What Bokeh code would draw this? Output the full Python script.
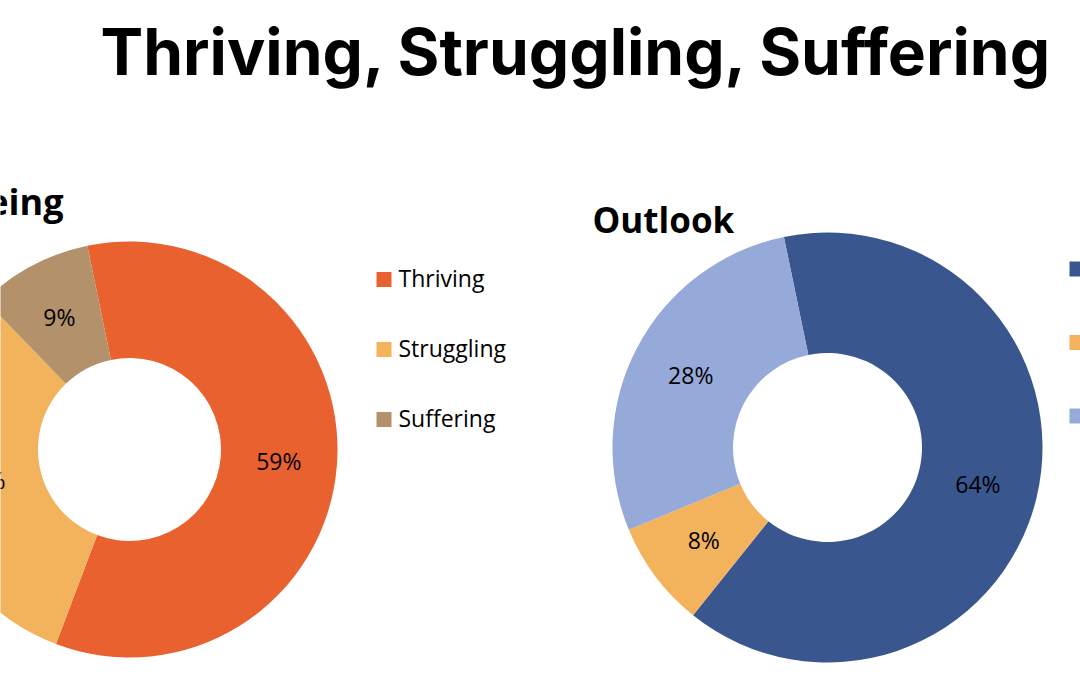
import math
from bokeh.plotting import figure
from bokeh.models import Range1d, ColumnDataSource
from bokeh.core.properties import value
from bokeh.embed import file_html
from bokeh.resources import INLINE

# ---- data ----
title_text = "Thriving, Struggling, Suffering"

wellbeing_title = "Wellbeing"
wellbeing_cats = ["Thriving", "Struggling", "Suffering"]
wellbeing_vals = [59, 32, 9]
wellbeing_colors = ["#EA6130", "#F3B25C", "#B3916A"]

outlook_title = "Outlook"
outlook_cats = ["Positive", "Neutral", "Negative"]
outlook_vals = [64, 8, 28]
outlook_colors = ["#39568F", "#F3B25C", "#95AAD8"]

START_CW = -11.7  # first slice starts this many degrees clockwise from 12 o'clock

W, H = 1080, 675
p = figure(width=W, height=H, x_range=Range1d(0, W), y_range=Range1d(0, H),
           output_backend="svg", toolbar_location=None, min_border=0)
p.axis.visible = False
p.grid.visible = False
p.outline_line_color = None
p.background_fill_color = "white"
p.border_fill_color = "white"

def Y(ypx):
    return H - ypx

LABEL_FONT = value("Open Sans")


def donut(cx, cy_px, r_in, r_out, vals, colors):
    cy = Y(cy_px)
    total = float(sum(vals))
    starts, ends, lx, ly, txt = [], [], [], [], []
    cum = 0.0
    for v in vals:
        ts = START_CW + 360.0 * cum / total
        te = START_CW + 360.0 * (cum + v) / total
        starts.append(math.radians(90 - ts))
        ends.append(math.radians(90 - te))
        mid = math.radians((ts + te) / 2)
        rm = (r_in + r_out) / 2
        lx.append(cx + rm * math.sin(mid))
        ly.append(cy + rm * math.cos(mid))
        txt.append(f"{v}%")
        cum += v
    src = ColumnDataSource(dict(x=[cx] * len(vals), y=[cy] * len(vals),
                                start=starts, end=ends, color=colors))
    p.annular_wedge(x="x", y="y", inner_radius=r_in, outer_radius=r_out,
                    start_angle="start", end_angle="end", direction="clock",
                    fill_color="color", line_color=None, source=src)
    lsrc = ColumnDataSource(dict(x=lx, y=ly, t=txt))
    p.text(x="x", y="y", text="t", source=lsrc, text_align="center",
           text_baseline="middle", text_font=LABEL_FONT,
           text_font_size="23px", text_color="#000000")


donut(129, 449, 91.5, 208, wellbeing_vals, wellbeing_colors)
donut(827, 447, 94.5, 215, outlook_vals, outlook_colors)

# legends
def legend(x_sq, y0_px, dy, cats, colors, show_text=True):
    ys = [Y(y0_px + i * dy) for i in range(len(cats))]
    p.rect(x=[x_sq + 7.5] * len(cats), y=ys, width=15, height=15,
           fill_color=colors, line_color=None)
    if show_text:
        p.text(x=[x_sq + 22] * len(cats), y=[y + 1.5 for y in ys], text=cats,
               text_align="left", text_baseline="middle", text_font=LABEL_FONT,
               text_font_size="23px", text_color="#000000")

legend(376, 279, 70, wellbeing_cats, wellbeing_colors)
legend(1069, 268.5, 73.5, outlook_cats, outlook_colors, show_text=False)

# chart titles
p.text(x=[63], y=[Y(201)], text=[wellbeing_title], text_align="right",
       text_baseline="alphabetic", text_font=LABEL_FONT, text_font_style="bold",
       text_font_size="36px", text_color="#000000")
p.text(x=[592], y=[Y(219)], text=[outlook_title], text_align="left",
       text_baseline="alphabetic", text_font=LABEL_FONT, text_font_style="bold",
       text_font_size="35px", text_color="#000000")

# main title
p.text(x=[100], y=[Y(51)], text=[title_text], text_align="left",
       text_baseline="alphabetic", text_font=value("Inter"), text_font_style="bold",
       text_font_size="64px", text_color="#000000")

open("out.html", "w").write(file_html(p, INLINE))
